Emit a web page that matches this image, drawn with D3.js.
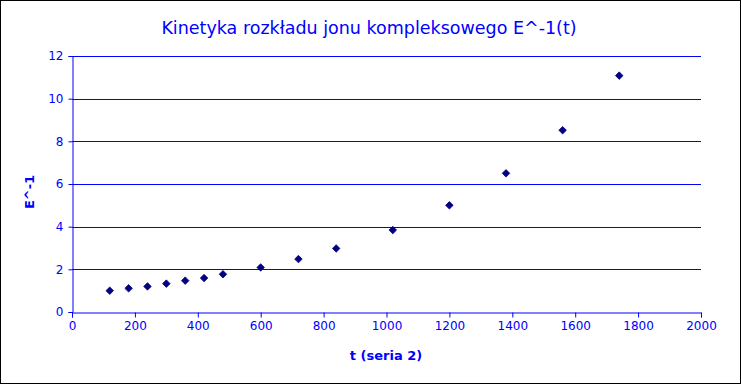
<!DOCTYPE html>
<html>
<head>
<meta charset="utf-8">
<script src="https://cdn.jsdelivr.net/npm/d3@7"></script>
<style>
body { margin: 0; background: #fff; }
text { font-family: "DejaVu Sans", sans-serif; fill: #0000ff; }
</style>
</head>
<body>
<script>
var width = 741;
var height = 384;

// czas (s) i odwrotnosc absorbancji
var tValues = [120, 180, 240, 300, 360, 420, 480, 600, 720, 840, 1020, 1200, 1380, 1560, 1740];
var eInv = [1.0, 1.11, 1.2, 1.33, 1.47, 1.59, 1.77, 2.09, 2.48, 2.98, 3.84, 5.0, 6.5, 8.52, 11.08];
var xTicks = [0, 200, 400, 600, 800, 1000, 1200, 1400, 1600, 1800, 2000];
var yTicks = [0, 2, 4, 6, 8, 10, 12];

var plotLeft = 72, plotRight = 701, plotTop = 56, plotBottom = 312;

var svg = d3.select("body").append("svg")
    .attr("width", width)
    .attr("height", height);

svg.append("rect")
    .attr("x", 0.5).attr("y", 0.5)
    .attr("width", width - 1).attr("height", height - 1)
    .attr("fill", "#fff")
    .attr("stroke", "#000");

var x = d3.scaleLinear().domain([0, 2000]).range([plotLeft, plotRight]);
var y = d3.scaleLinear().domain([0, 12]).range([plotBottom, plotTop]);

// gridlines
svg.append("g")
    .selectAll("line")
    .data(yTicks.filter(function (d) { return d > 0; }))
    .enter().append("line")
    .attr("x1", plotLeft).attr("x2", plotRight)
    .attr("y1", function (d) { return Math.round(y(d)) + 0.5; })
    .attr("y2", function (d) { return Math.round(y(d)) + 0.5; })
    .attr("stroke", "#0000ff");

var xAxis = svg.append("g")
    .attr("transform", "translate(0," + (plotBottom + 0.5) + ")")
    .call(d3.axisBottom(x).tickValues(xTicks).tickSize(5).tickPadding(4).tickFormat(d3.format("d")));

var yAxis = svg.append("g")
    .attr("transform", "translate(" + (plotLeft + 0.5) + ",0)")
    .call(d3.axisLeft(y).tickValues(yTicks).tickSize(4).tickPadding(5).tickFormat(d3.format("d")));

[xAxis, yAxis].forEach(function (a) {
    a.select(".domain").attr("stroke", "#0000ff");
    a.selectAll(".tick line").attr("stroke", "#0000ff");
    a.selectAll(".tick text").style("font-size", "12px").attr("fill", "#0000ff")
        .style("font-family", "DejaVu Sans, sans-serif");
});

// punkty
svg.append("g")
    .selectAll("path")
    .data(tValues)
    .enter().append("path")
    .attr("d", d3.symbol().type(d3.symbolDiamond2).size(36))
    .attr("transform", function (d, i) { return "translate(" + x(d) + "," + y(eInv[i]) + ")"; })
    .attr("fill", "#000080")
    .attr("stroke", "#000080")
    .attr("stroke-width", 0.8);

svg.append("text")
    .attr("x", 369).attr("y", 34)
    .attr("text-anchor", "middle")
    .style("font-size", "17.5px")
    .text("Kinetyka rozkładu jonu kompleksowego E^-1(t)");

svg.append("text")
    .attr("x", 386).attr("y", 360)
    .attr("text-anchor", "middle")
    .style("font-size", "13px")
    .style("font-weight", "bold")
    .text("t (seria 2)");

svg.append("text")
    .attr("transform", "translate(34,192) rotate(-90)")
    .attr("text-anchor", "middle")
    .style("font-size", "13px")
    .style("font-weight", "bold")
    .text("E^-1");
</script>
</body>
</html>
